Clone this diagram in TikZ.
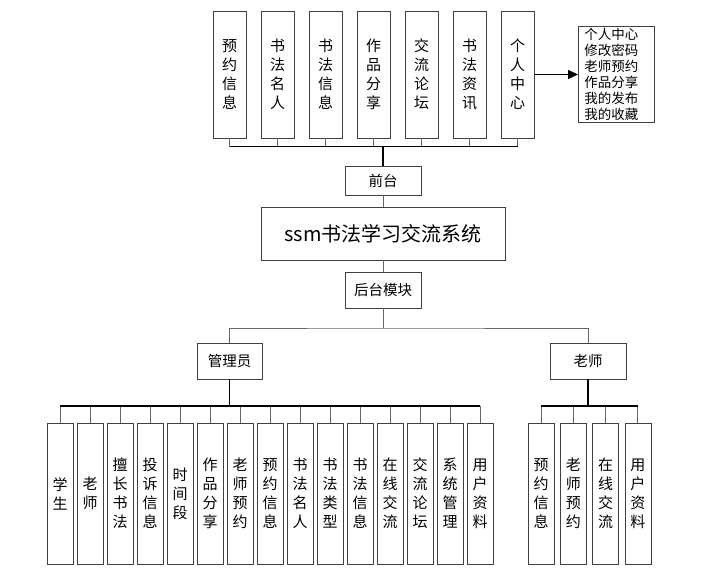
\documentclass[tikz,border=0pt]{standalone}
\usepackage{fontspec}
\setmainfont{Noto Sans CJK SC}
\usetikzlibrary{positioning, arrows.meta}
\tikzset{
box/.style={draw=black!75, line width=0.8pt, inner sep=0pt, align=center}, % every framed node
topbox/.style={box, minimum width=33pt, minimum height=127pt, font=\fontsize{15}{19}\selectfont},
subbox/.style={box, minimum width=26pt, minimum height=141pt, font=\fontsize{15}{19}\selectfont},
midbox/.style={box, minimum width=76pt, minimum height=36pt, font=\fontsize{14.5}{17}\selectfont},
branch/.style={draw=black!60, line width=1pt}, % thin gray links
trunk/.style={draw=black, line width=1.4pt}, % main bus lines
}

\begin{document}
\begin{tikzpicture}[x=1pt, y=-1pt]
        \useasboundingbox (0,0) rectangle (716,570);
        % front end modules
        \foreach \t [count=\i] in {{预\\约\\信\\息},{书\\法\\名\\人},{书\\法\\信\\息},{作\\品\\分\\享},{交\\流\\论\\坛},{书\\法\\资\\讯},{个\\人\\中\\心}}
                \node[topbox] (t\i) at (181.5+48*\i,74.5) {\t};
        \node[box, anchor=north west, minimum width=76pt, minimum height=96pt, text width=64pt, inner xsep=6pt, align=left, font=\fontsize{13.5}{16}\selectfont] (menu) at (578,26) {个人中心\\修改密码\\老师预约\\作品分享\\我的发布\\我的收藏};
        \node[midbox, minimum height=29pt] (front) at (383,180.5) {前台};
        \node[box, minimum width=244pt, minimum height=53pt, font=\fontsize{20}{24}\selectfont] (sys) at (383,233.5) {ssm书法学习交流系统};
        \node[midbox] (back) at (383,290) {后台模块};
        \node[midbox, minimum width=65pt] (admin) at (229.5,361) {管理员};
        \node[midbox] (teacher) at (588,361) {老师};
        % back end modules
        \foreach \t [count=\i from 0] in {{学\\生},{老\\师},{擅\\长\\书\\法},{投\\诉\\信\\息},{时\\间\\段},{作\\品\\分\\享},{老\\师\\预\\约},{预\\约\\信\\息},{书\\法\\名\\人},{书\\法\\类\\型},{书\\法\\信\\息},{在\\线\\交\\流},{交\\流\\论\\坛},{系\\统\\管\\理},{用\\户\\资\\料}}
                \node[subbox] (a\i) at (60+30*\i,493.5) {\t};
        \foreach \t [count=\i from 0] in {{预\\约\\信\\息},{老\\师\\预\\约},{在\\线\\交\\流},{用\\户\\资\\料}}
                \node[subbox] (s\i) at (541+32.33*\i,493.5) {\t};

        \coordinate (tbus) at (383,146.5);
        \coordinate (mbus) at (383,328);
        \coordinate (abus) at (229.5,406);
        \coordinate (sbus) at (588,406);

        \foreach \i in {1,...,7}
                \draw[branch] (t\i.south) -- (t\i.south |- tbus);
        \draw[trunk] (t1.south |- tbus) -- (t7.south |- tbus);
        \draw[trunk] (tbus) -- (front.north);
        \draw[trunk, -{Triangle[length=10pt, width=9pt]}] (t7.east) -- (t7.east -| menu.west);
        \draw[branch] (front) -- (sys);
        \draw[branch] (sys) -- (back);
        \draw[branch] (back.south) -- (mbus);
        \draw[branch] (admin.north) |- (mbus) -| (teacher.north);

        \draw[trunk] (admin.south) -- (abus);
        \foreach \i in {0,...,14}
                \draw[branch] (a\i.north) -- (a\i.north |- abus);
        \draw[trunk] (a0.north |- abus) -- (a14.north |- abus);

        \draw[trunk] (teacher.south) -- (sbus);
        \foreach \i in {0,...,3}
                \draw[branch] (s\i.north) -- (s\i.north |- sbus);
        \draw[trunk] (s0.north |- sbus) -- (s3.north |- sbus);
\end{tikzpicture}
\end{document}
